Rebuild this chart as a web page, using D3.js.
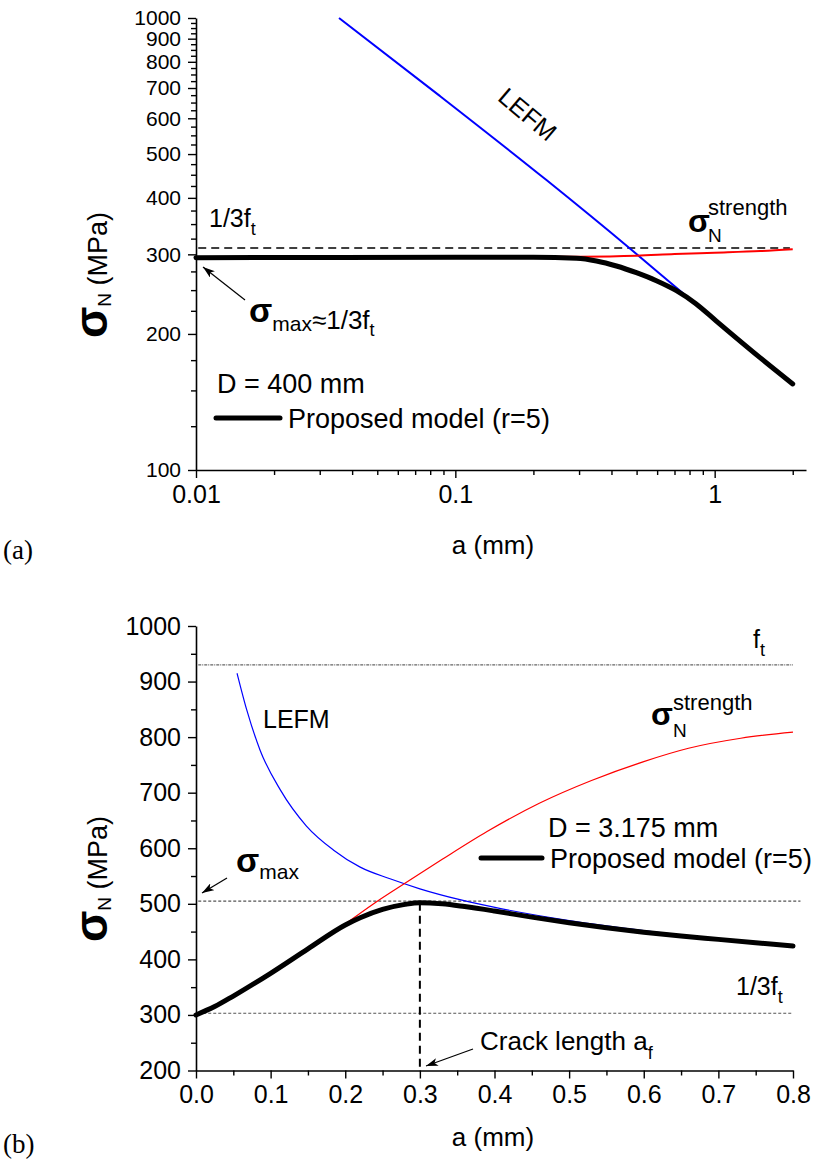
<!DOCTYPE html>
<html><head><meta charset="utf-8">
<script src="https://cdn.jsdelivr.net/npm/d3@7/dist/d3.min.js"></script>
<style>
html,body{margin:0;padding:0;background:#fff;}
svg{display:block;}
text{font-family:"Liberation Sans",Arial,Helvetica,sans-serif;fill:#000;}
.serif{font-family:"Liberation Serif","Times New Roman",serif;}
</style></head>
<body>
<svg id="c" width="813" height="1164"></svg>
<script>
// ---------- DATA: panel (a), D = 400 mm, log-log ----------
const aLefmA   = [0.0356, 0.0861, 0.2246, 0.47, 0.755, 1.0, 1.5, 2.0];
const sLefmA   = [1000, 676, 438, 309.5, 246, 215, 177.4, 156];
const aStrA    = [0.01, 0.1, 0.3, 0.5, 0.7, 1.0, 1.5, 2.0];
const sStrA    = [296, 296, 296.5, 298, 300.5, 302.5, 305, 308];
const aModelA  = [0.01, 0.1, 0.2, 0.293, 0.35, 0.418, 0.499, 0.596, 0.712, 0.849, 1.015, 1.5, 2.0];
const sModelA  = [295, 295.5, 295.5, 294, 290, 282.7, 273.2, 262.3, 249.3, 233, 213.5, 177, 155];
const ftThirdA = 310;
const xTicksA  = [0.01, 0.1, 1];
const xLabelsA = ["0.01", "0.1", "1"];
const yTicksA  = [100, 200, 300, 400, 500, 600, 700, 800, 900, 1000];
const yLabelsA = ["100", "200", "300", "400", "500", "600", "700", "800", "900", "1000"];

// ---------- DATA: panel (b), D = 3.175 mm, linear ----------
const aLefmB   = [0.055, 0.068, 0.086, 0.113, 0.148, 0.184, 0.22, 0.26, 0.3, 0.355, 0.41, 0.5, 0.6, 0.7, 0.8];
const sLefmB   = [915, 849, 776, 705, 640, 597, 566, 545, 527, 507, 491, 470, 452, 437, 426];
const aStrB    = [0.18, 0.2, 0.24, 0.28, 0.33, 0.39, 0.46, 0.53, 0.6, 0.66, 0.73, 0.8];
const sStrB    = [446, 464, 502, 537, 580, 630, 681, 722, 756, 780, 798, 809];
const aModelB  = [0, 0.025, 0.05, 0.1, 0.15, 0.2, 0.22, 0.25, 0.28, 0.3, 0.33, 0.36, 0.4, 0.45, 0.5, 0.55, 0.6, 0.65, 0.7, 0.75, 0.8];
const sModelB  = [300, 315, 334, 375, 419, 462, 475, 490, 499, 502, 500, 495, 487, 476, 466, 457, 449, 442, 436, 430, 424];
const ftB      = 930;
const sMaxB    = 505;
const ftThirdB = 303;
const aCrackB  = 0.3;
const xTicksB  = [0, 0.1, 0.2, 0.3, 0.4, 0.5, 0.6, 0.7, 0.8];
const xLabelsB = ["0.0", "0.1", "0.2", "0.3", "0.4", "0.5", "0.6", "0.7", "0.8"];
const yTicksB  = [200, 300, 400, 500, 600, 700, 800, 900, 1000];
const yLabelsB = ["200", "300", "400", "500", "600", "700", "800", "900", "1000"];

// ---------- drawing ----------
const svg = d3.select("#c");
const defs = svg.append("defs");
defs.append("marker").attr("id","arr").attr("viewBox","0 0 12 8")
  .attr("refX",12).attr("refY",4).attr("markerWidth",12).attr("markerHeight",8)
  .attr("markerUnits","userSpaceOnUse").attr("orient","auto")
  .append("path").attr("d","M0,0 L12,4 L0,8 L3,4 z").attr("fill","#000");

const zip = (a,s) => a.map((v,i)=>[v,s[i]]);

function styleAxis(g, fs){
  g.selectAll("path.domain").attr("stroke","#000").attr("stroke-width",1.6);
  g.selectAll(".tick line").attr("stroke","#000").attr("stroke-width",1.4);
  g.selectAll(".tick text").attr("font-size",fs).attr("fill","#000")
    .attr("font-family",'"Liberation Sans",Arial,sans-serif');
}
function drawAxes(x, y, xt, xl, xminor, yt, yl, yminor, yfs){
  const [x0] = x.range(); const [y0] = y.range();
  svg.append("g").attr("transform",`translate(0,${y0})`)
    .call(d3.axisBottom(x).tickValues(xminor).tickSize(5).tickSizeOuter(0).tickFormat(""))
    .call(g=>{g.select(".domain").remove(); styleAxis(g,25);});
  svg.append("g").attr("transform",`translate(${x0},0)`)
    .call(d3.axisLeft(y).tickValues(yminor).tickSize(5).tickSizeOuter(0).tickFormat(""))
    .call(g=>{g.select(".domain").remove(); styleAxis(g,25);});
  svg.append("g").attr("transform",`translate(0,${y0})`)
    .call(d3.axisBottom(x).tickValues(xt).tickSize(8).tickSizeOuter(0).tickPadding(7)
      .tickFormat((d,i)=>xl[i]))
    .call(g=>styleAxis(g,25));
  svg.append("g").attr("transform",`translate(${x0},0)`)
    .call(d3.axisLeft(y).tickValues(yt).tickSize(8).tickSizeOuter(0).tickPadding(7)
      .tickFormat((d,i)=>yl[i]))
    .call(g=>styleAxis(g,yfs));
}

function rich(x, y, parts, attrs){
  const t = svg.append("text").attr("x",x).attr("y",y);
  let prev = 0;
  parts.forEach(p=>{
    const b = p.b||0;
    const ts = t.append("tspan").attr("font-size",p.s).attr("dy",b-prev).text(p.t);
    if(p.w) ts.attr("font-weight",p.w);
    prev = b;
  });
  if(attrs) Object.entries(attrs).forEach(([k,v])=>t.attr(k,v));
  return t;
}
function arrow(x1,y1,x2,y2){
  svg.append("line").attr("x1",x1).attr("y1",y1).attr("x2",x2).attr("y2",y2)
    .attr("stroke","#000").attr("stroke-width",1.2).attr("marker-end","url(#arr)");
}
function yTitle(x, y){
  rich(0,0,[{t:"σ",s:46,w:"bold"},{t:"N",s:19,b:4},{t:" (MPa)",s:27,b:0}],
    {transform:`translate(${x},${y}) rotate(-90)`, "text-anchor":"middle"});
}

// ===== Panel (a) =====
const xA = d3.scaleLog().domain([0.01, 2.25]).range([196, 806]);
const yA = d3.scaleLog().domain([100, 1000]).range([470, 18]);
const xMinorA = [];
[0.01,0.1,1].forEach(dec=>d3.range(2,10).forEach(m=>{const v=+(m*dec).toPrecision(3); if(v<=2.25) xMinorA.push(v);}));
const yMinorA = d3.range(125, 1000, 25).filter(v=>v%100!==0);
drawAxes(xA, yA, xTicksA, xLabelsA, xMinorA, yTicksA, yLabelsA, yMinorA, 21);

const lineA = d3.line().x(d=>xA(d[0])).y(d=>yA(d[1])).curve(d3.curveMonotoneX);
svg.append("line").attr("x1",xA(0.0102)).attr("x2",xA(1.95)).attr("y1",yA(ftThirdA)).attr("y2",yA(ftThirdA))
  .attr("stroke","#000").attr("stroke-width",1.5).attr("stroke-dasharray","8,5");
svg.append("path").attr("d",lineA(zip(aLefmA,sLefmA))).attr("fill","none").attr("stroke","#0000ff").attr("stroke-width",2);
svg.append("path").attr("d",lineA(zip(aStrA,sStrA))).attr("fill","none").attr("stroke","#ff0000").attr("stroke-width",2);
svg.append("path").attr("d",lineA(zip(aModelA,sModelA))).attr("fill","none").attr("stroke","#000").attr("stroke-width",5).attr("stroke-linecap","round");

// annotations (a)
rich(209,227,[{t:"1/3f",s:25},{t:"t",s:18,b:8}]);
rich(688,232,[{t:"σ",s:32,w:"bold"}]);
rich(708,215,[{t:"strength",s:22}]);
rich(708,242,[{t:"N",s:19}]);
svg.append("text").attr("transform","translate(522,121) rotate(40)").attr("text-anchor","middle")
  .attr("font-size",25).text("LEFM");
arrow(245,300,203,267);
rich(249,322,[{t:"σ",s:34,w:"bold"},{t:"max",s:21,b:9},{t:"≈1/3f",s:26,b:7},{t:"t",s:18,b:14}]);
rich(217,393,[{t:"D = 400 mm",s:27}]);
svg.append("line").attr("x1",216).attr("x2",280).attr("y1",418).attr("y2",418).attr("stroke","#000").attr("stroke-width",5).attr("stroke-linecap","round");
rich(288,428,[{t:"Proposed model (r=5)",s:27}]);
rich(493,554,[{t:"a (mm)",s:26}],{"text-anchor":"middle"});
yTitle(107,275);
svg.append("text").attr("class","serif").attr("x",3).attr("y",559).attr("font-size",27).text("(a)");

// ===== Panel (b) =====
const xB = d3.scaleLinear().domain([0, 0.8]).range([196, 793]);
const yB = d3.scaleLinear().domain([200, 1000]).range([1070.5, 626]);
const xMinorB = d3.range(0.05, 0.8, 0.1).map(v=>+v.toFixed(2));
const yMinorB = d3.range(250, 1000, 100);
drawAxes(xB, yB, xTicksB, xLabelsB, xMinorB, yTicksB, yLabelsB, yMinorB, 25);

const lineB = d3.line().x(d=>xB(d[0])).y(d=>yB(d[1])).curve(d3.curveMonotoneX);
function hline(v, a0, a1, dash, col, w){
  svg.append("line").attr("x1",xB(a0)).attr("x2",xB(a1)).attr("y1",yB(v)).attr("y2",yB(v))
    .attr("stroke",col).attr("stroke-width",w).attr("stroke-dasharray",dash);
}
hline(ftB, 0.003, 0.8, "3,1,1,1", "#666", 1.2);
hline(sMaxB, 0.003, 0.81, "3,2", "#555", 1.2);
hline(ftThirdB, 0.003, 0.8, "3,2", "#555", 1.2);
svg.append("path").attr("d",lineB(zip(aLefmB,sLefmB))).attr("fill","none").attr("stroke","#0000ff").attr("stroke-width",1.2);
svg.append("path").attr("d",lineB(zip(aStrB,sStrB))).attr("fill","none").attr("stroke","#ff0000").attr("stroke-width",1.2);
svg.append("line").attr("x1",xB(aCrackB)).attr("x2",xB(aCrackB)).attr("y1",yB(502)).attr("y2",yB(200))
  .attr("stroke","#000").attr("stroke-width",2).attr("stroke-dasharray","8,5");
svg.append("path").attr("d",lineB(zip(aModelB,sModelB))).attr("fill","none").attr("stroke","#000").attr("stroke-width",5).attr("stroke-linecap","round");

// annotations (b)
rich(753,648,[{t:"f",s:25},{t:"t",s:18,b:8}]);
rich(263,728,[{t:"LEFM",s:25}]);
rich(651,725,[{t:"σ",s:32,w:"bold"}]);
rich(673,710,[{t:"strength",s:22}]);
rich(673,737,[{t:"N",s:19}]);
rich(548,837,[{t:"D = 3.175 mm",s:27}]);
svg.append("line").attr("x1",481).attr("x2",542).attr("y1",858).attr("y2",858).attr("stroke","#000").attr("stroke-width",5).attr("stroke-linecap","round");
rich(550,868,[{t:"Proposed model (r=5)",s:27}]);
rich(236,872,[{t:"σ",s:34,w:"bold"},{t:"max",s:21,b:7}]);
arrow(227,878,202,893);
rich(736,995,[{t:"1/3f",s:25},{t:"t",s:18,b:8}]);
rich(480,1050,[{t:"Crack length a",s:26},{t:"f",s:18,b:9}]);
arrow(473,1049,426,1066);
rich(493,1146,[{t:"a (mm)",s:26}],{"text-anchor":"middle"});
yTitle(107,879);
svg.append("text").attr("class","serif").attr("x",3).attr("y",1153).attr("font-size",27).text("(b)");
</script>
</body></html>
